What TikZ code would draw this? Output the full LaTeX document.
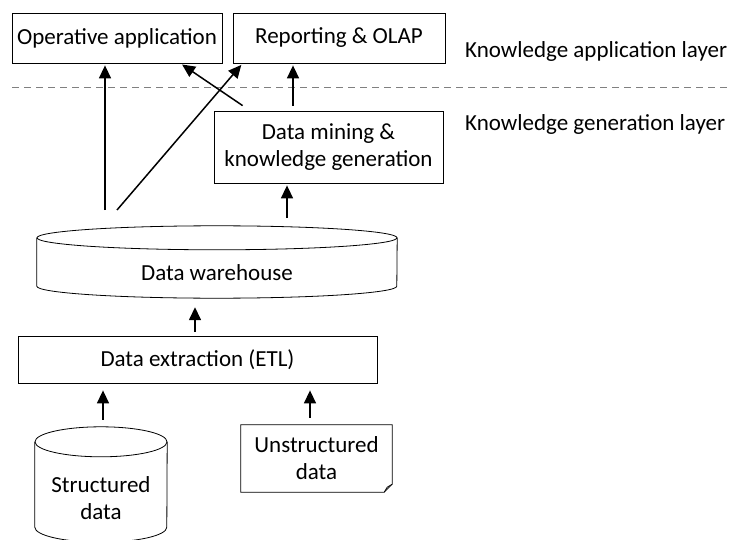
\documentclass[tikz,border=0pt]{standalone}
\usepackage{fontspec}
\setmainfont{Carlito}
\usetikzlibrary{arrows.meta}

\begin{document}
\begin{tikzpicture}[
    x		= 1pt,
    y		= 1pt,
    font	= \fontsize{23}{27}\selectfont,
    box/.style	= {draw, line width=0.8pt, inner sep=0pt, align=center},
    shell/.style	= {inner sep=0pt, align=center},
    outline/.style	= {line width=0.8pt},
    flow/.style	= {->, line width=1.5pt},
    layer/.style	= {anchor=west, inner sep=0pt},
    >={Triangle[length=13pt,width=12pt]}
  ]
\useasboundingbox (0,0) rectangle (730,539);
% application layer
\node[box, minimum width=210, minimum height=50] (op) at (117,501) {Operative application};
\node[box, minimum width=212, minimum height=50] (rep) at (339,501) {Reporting \& OLAP};
\node[layer] (applayer) at (465,488) {Knowledge application layer};
% layer border
\draw[gray, line width=0.8pt, dash pattern=on 7pt off 5pt] (12,452) -- (727,452);
% generation layer
\node[box, minimum width=229, minimum height=72] (dm) at (328.5,392) {Data mining \&\\knowledge generation};
\node[layer] (genlayer) at (465,415) {Knowledge generation layer};
% warehouse
\node[shell, minimum width=360, minimum height=48,
      label={[yshift=-11pt]center:Data warehouse}] (dw) at (217,277) {};
\draw[outline] (dw.north) ellipse [x radius=180, y radius=12];
\draw[outline] (dw.north west) -- (dw.south west)
  arc[start angle=180, end angle=360, x radius=180, y radius=12] -- (dw.north east);
\node[box, minimum width=359, minimum height=47] (etl) at (197.5,179.5) {Data extraction (ETL)};
% sources
\node[shell, minimum width=132, minimum height=85,
      label={[yshift=-14pt, align=center]center:Structured\\data}] (sd) at (101,54.5) {};
\draw[outline] (sd.north) ellipse [x radius=66, y radius=15];
\draw[outline] (sd.north west) -- (sd.south west)
  arc[start angle=180, end angle=360, x radius=66, y radius=15] -- (sd.north east);
\node[shell, minimum width=151, minimum height=67] (ud) at (316.5,80.5) {Unstructured\\data};
\draw[outline] (ud.south west) -- (ud.north west) -- (ud.north east) -- ([yshift=8pt]ud.south east)
  -- ([xshift=-8pt]ud.south east) -- cycle;
\draw[outline] ([xshift=-8pt]ud.south east) -- ([shift={(-5,5)}]ud.south east) -- ([yshift=8pt]ud.south east);
% arrows
\coordinate (dwleft) at (105,329);
\coordinate (dwright) at (117,329);
\coordinate (dwtop) at (0,321);
\draw[flow, shorten >=2pt] (dwleft) -- (dwleft |- op.south);
\draw[flow, shorten >=2pt] (dwright) -- ([xshift=10pt]rep.south west);
\draw[flow, shorten >=2pt] ([shift={(29,5)}]dm.north west) -- ([xshift=-42pt]op.south east);
\draw[flow, shorten <=5pt, shorten >=2pt] ([xshift=-35.5pt]dm.north) -- ([xshift=-35.5pt]dm.north |- rep.south);
\draw[flow, shorten >=2pt] ([xshift=-41.5pt]dm.south |- dwtop) -- ([xshift=-41.5pt]dm.south);
\draw[flow, shorten <=4pt, shorten >=21pt] ([xshift=-2.5pt]etl.north) -- ([xshift=-2.5pt]etl.north |- dw.south);
\draw[flow, shorten >=7pt] ([shift={(2,22)}]sd.north) -- ([xshift=2pt]sd.north |- etl.south);
\draw[flow, shorten <=7pt, shorten >=7pt] ([xshift=-6.5pt]ud.north) -- ([xshift=-6.5pt]ud.north |- etl.south);
\end{tikzpicture}
\end{document}
